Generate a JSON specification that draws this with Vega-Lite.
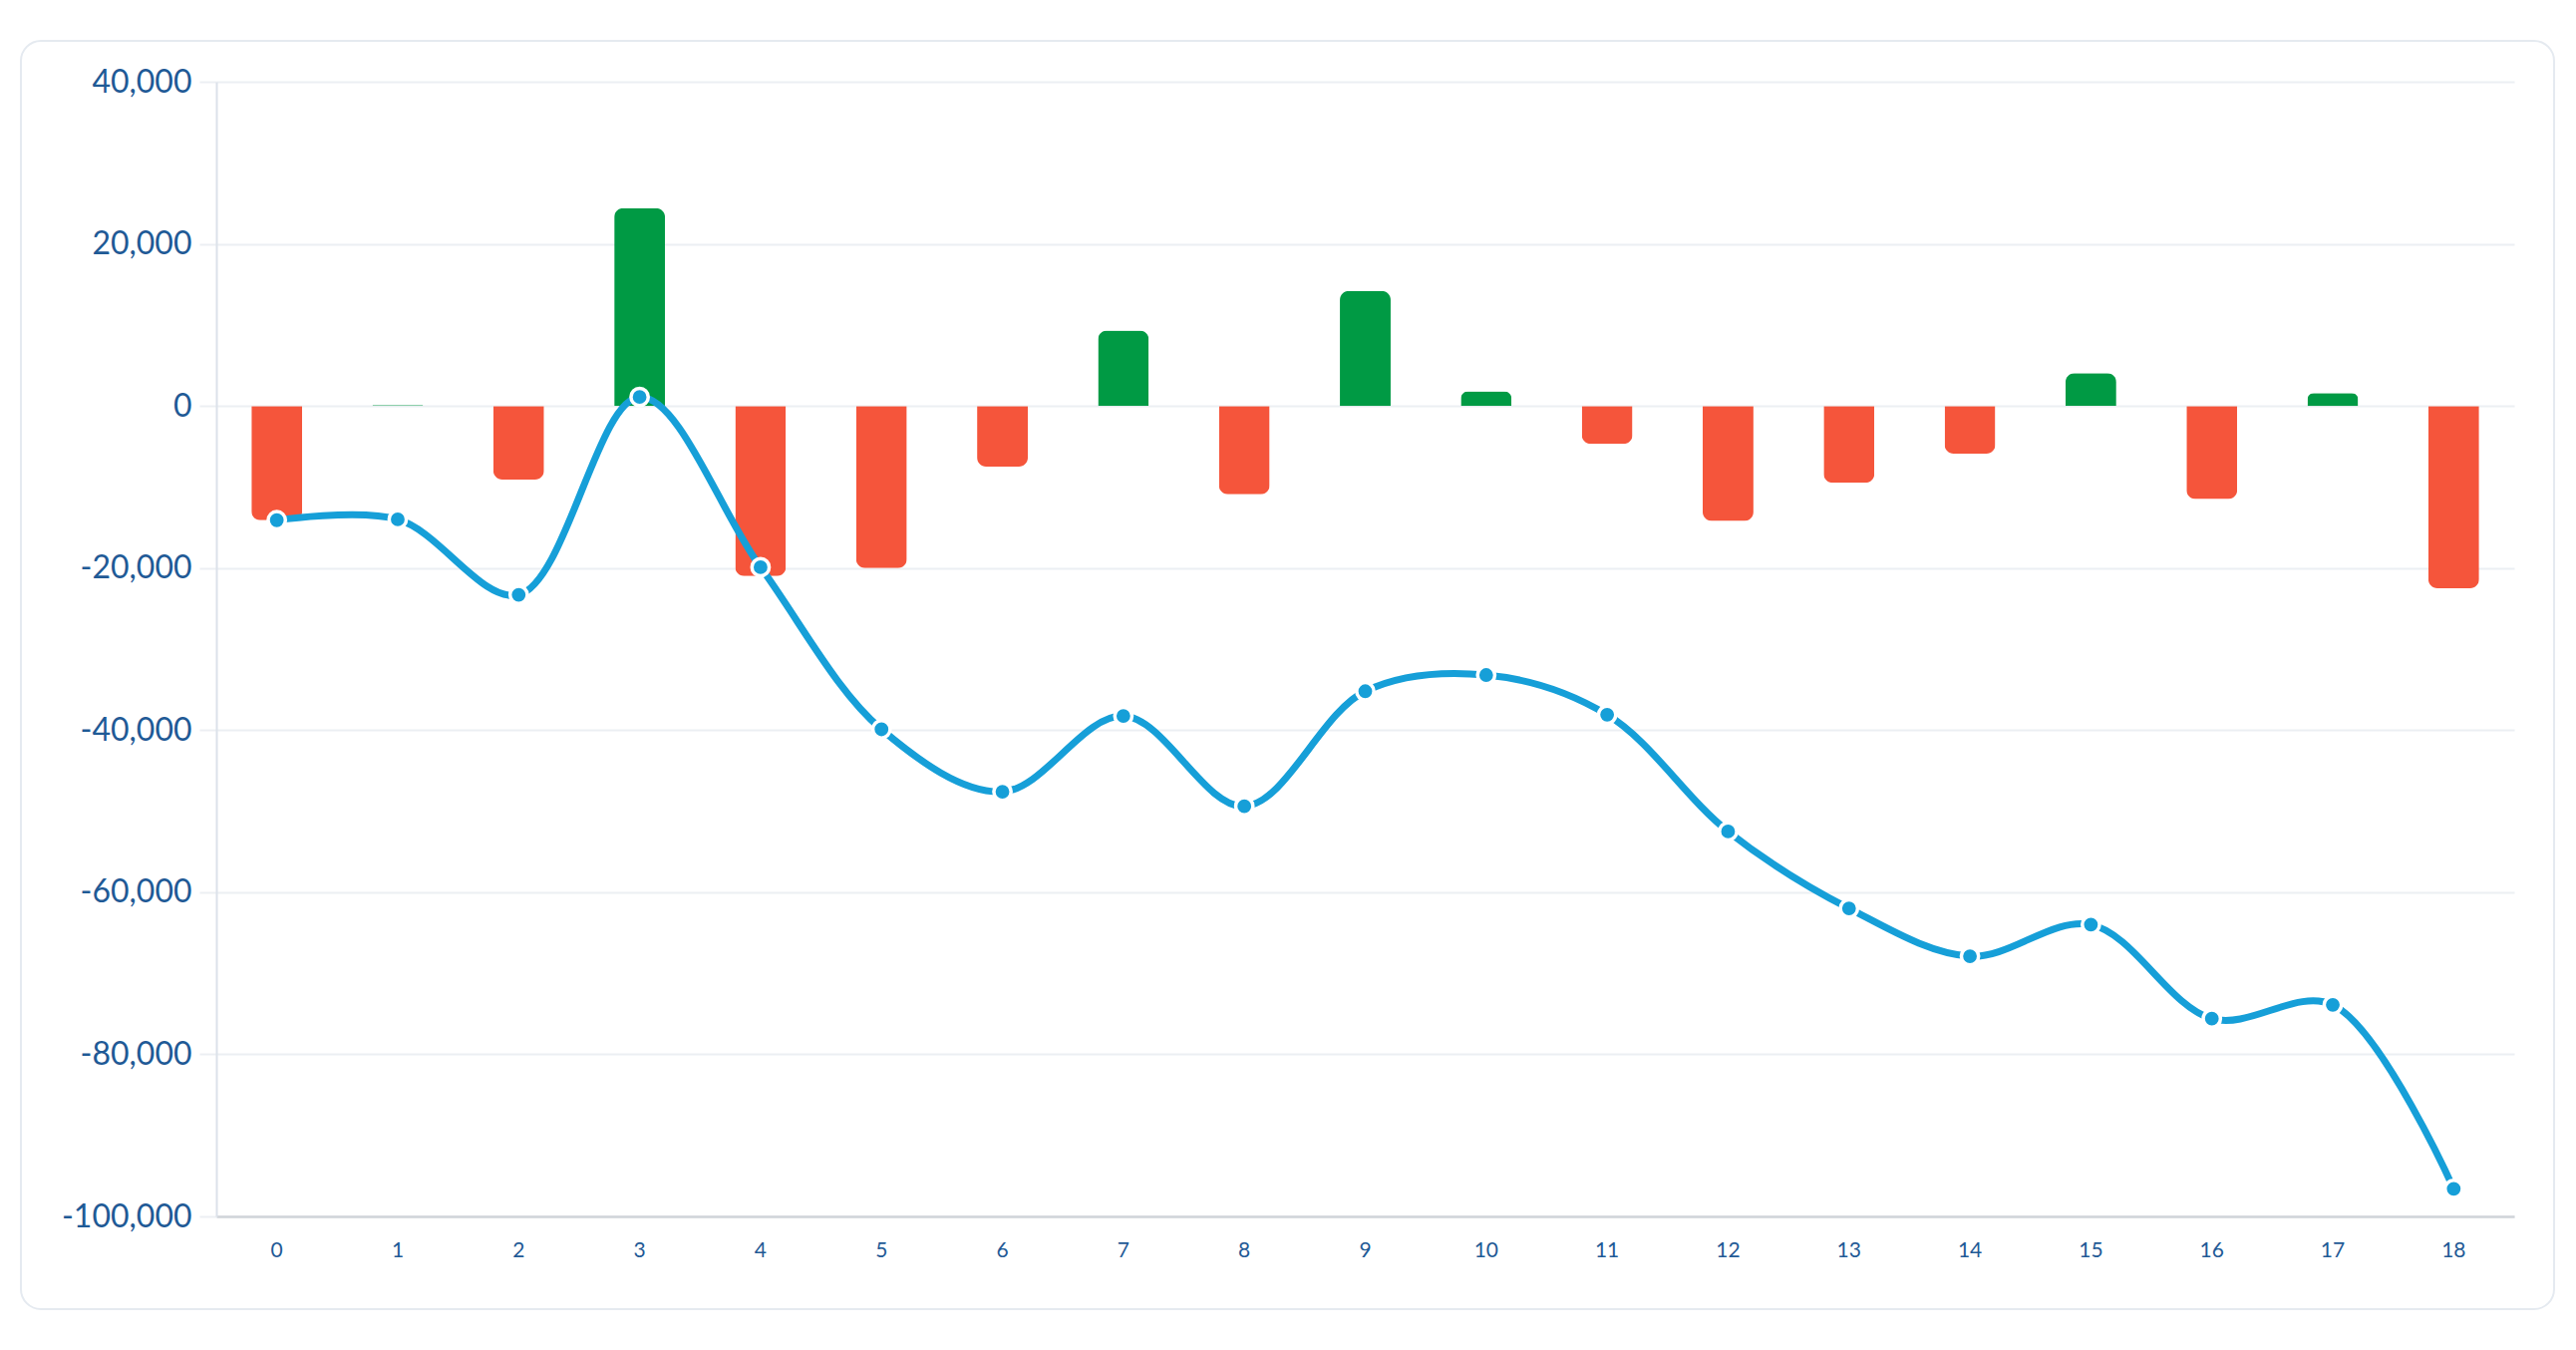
{
  "$schema": "https://vega.github.io/schema/vega-lite/v6.json",
  "width": 2541,
  "height": 1272,
  "padding": {"left": 21, "top": 41, "right": 22, "bottom": 41},
  "autosize": {"type": "none"},
  "background": "#ffffff",
  "data": {
    "values": [
      {"i": 0, "value": -14100, "total": -14100},
      {"i": 1, "value": 100, "total": -14000},
      {"i": 2, "value": -9100, "total": -23300},
      {"i": 3, "value": 24400, "total": 1100},
      {"i": 4, "value": -21000, "total": -19900},
      {"i": 5, "value": -20000, "total": -39900},
      {"i": 6, "value": -7500, "total": -47600},
      {"i": 7, "value": 9300, "total": -38250},
      {"i": 8, "value": -10900, "total": -49400},
      {"i": 9, "value": 14200, "total": -35200},
      {"i": 10, "value": 1800, "total": -33200},
      {"i": 11, "value": -4700, "total": -38100},
      {"i": 12, "value": -14200, "total": -52500},
      {"i": 13, "value": -9500, "total": -62000},
      {"i": 14, "value": -5900, "total": -67900},
      {"i": 15, "value": 4050, "total": -64000},
      {"i": 16, "value": -11500, "total": -75600},
      {"i": 17, "value": 1600, "total": -73900},
      {"i": 18, "value": -22500, "total": -96600}
    ]
  },
  "encoding": {
    "x": {
      "field": "i",
      "type": "ordinal",
      "scale": {"range": [196, 2501], "paddingInner": 0.58, "paddingOuter": 0.29},
      "axis": {
        "title": null,
        "labelAngle": 0,
        "offset": -93,
        "domainColor": "#D0D4D9",
        "domainWidth": 2.5,
        "ticks": false,
        "tickSize": 0,
        "grid": false,
        "labelFont": "Lato",
        "labelFontSize": 21,
        "labelColor": "#1F5A96",
        "labelPadding": 23
      }
    },
    "y": {
      "field": "value",
      "type": "quantitative",
      "scale": {"domain": [-100000, 40000], "range": [1179, 41], "nice": false, "zero": false},
      "axis": {
        "title": null,
        "orient": "left",
        "offset": -196,
        "values": [-100000, -80000, -60000, -40000, -20000, 0, 20000, 40000],
        "format": ",d",
        "domainColor": "#DCE2EA",
        "domainWidth": 2,
        "tickSize": 17,
        "tickColor": "#ECEFF3",
        "tickWidth": 2,
        "grid": true,
        "gridColor": "#ECEFF3",
        "gridWidth": 2,
        "labelFont": "Lato",
        "labelFontSize": 32,
        "labelColor": "#1F5A96",
        "labelPadding": 8
      }
    }
  },
  "layer": [
    {
      "transform": [{"filter": "datum.value >= 0"}],
      "mark": {"type": "bar", "color": "#009A44", "cornerRadiusTopLeft": 9, "cornerRadiusTopRight": 9}
    },
    {
      "transform": [{"filter": "datum.value < 0"}],
      "mark": {"type": "bar", "color": "#F5553B", "cornerRadiusBottomLeft": 9, "cornerRadiusBottomRight": 9}
    },
    {
      "mark": {"type": "line", "interpolate": "catmull-rom", "strokeWidth": 7, "color": "#169FD8"},
      "encoding": {
        "y": {"field": "total", "type": "quantitative"}
      }
    },
    {
      "mark": {"type": "point", "shape": "circle", "filled": true, "size": 300, "fill": "#169FD8", "stroke": "#ffffff", "strokeWidth": 3.5, "opacity": 1},
      "encoding": {
        "y": {"field": "total", "type": "quantitative"}
      }
    }
  ],
  "config": {
    "locale": {
      "number": {"decimal": ".", "thousands": ",", "grouping": [3], "currency": ["$", ""], "minus": "-"}
    },
    "view": {"stroke": "#E5EAF0", "strokeWidth": 2, "cornerRadius": 20}
  }
}
